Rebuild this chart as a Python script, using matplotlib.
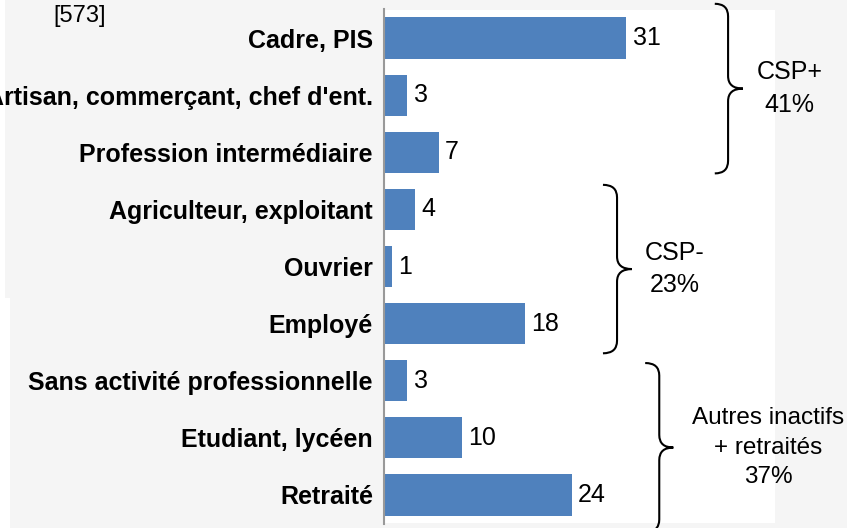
import matplotlib
matplotlib.use("Agg")
import matplotlib.pyplot as plt
from matplotlib import font_manager
from matplotlib.path import Path
from matplotlib.patches import PathPatch, Rectangle

categories = ["Cadre, PIS", "Artisan, commerçant, chef d'ent.", "Profession intermédiaire",
              "Agriculteur, exploitant", "Ouvrier", "Employé",
              "Sans activité professionnelle", "Etudiant, lycéen", "Retraité"]
values = [31, 3, 7, 4, 1, 18, 3, 10, 24]

group_labels = ["CSP+\n41%", "CSP-\n23%", "Autres inactifs\n+ retraités\n37%"]
group_first = [0, 3, 6]
group_last = [2, 5, 8]
total_label = "[573]"

# police etroite si dispo
try:
    font_manager.findfont("Liberation Sans Narrow", fallback_to_default=False)
    fam = ["Liberation Sans Narrow", "DejaVu Sans"]
except Exception:
    fam = ["Liberation Sans", "DejaVu Sans"]
plt.rcParams["font.family"] = fam

W, H = 847, 528
fig = plt.figure(figsize=(W / 100, H / 100), dpi=100)
fig.patch.set_facecolor("white")

# fond gris / blanc (capture d'ecran)
bg = fig.add_axes([0, 0, 1, 1], zorder=0)
bg.set_xlim(0, W)
bg.set_ylim(H, 0)
bg.axis("off")
gray = "#f5f5f5"
bg.add_patch(Rectangle((5, 0), W - 5, 298, color=gray, lw=0))
bg.add_patch(Rectangle((10, 298), W - 10, H - 298, color=gray, lw=0))
bg.add_patch(Rectangle((384, 10), 391, 513, color="white", lw=0))
bg.text(80, 16, total_label, fontsize=17, ha="center", va="center")

ax = fig.add_axes([384 / W, 4.5 / H, 391 / W, 514 / H], zorder=1)
ax.set_facecolor("none")
y = list(range(len(categories)))
ax.barh(y, values, height=0.72, color="#4F81BD")
ax.set_xlim(0, 50)
ax.set_ylim(8.5, -0.5)
ax.set_yticks(y)
ax.set_yticklabels(categories, fontsize=18, fontweight="bold")
ax.tick_params(axis="y", length=0, pad=8)
ax.set_xticks([])
for s in ["top", "right", "bottom"]:
    ax.spines[s].set_visible(False)
ax.spines["left"].set_color("#999999")
ax.spines["left"].set_linewidth(1.5)

for i, v in enumerate(values):
    ax.text(v + 0.8, i, str(v), va="center", ha="left", fontsize=18)

# accolades : (x gauche, x barre, x pointe), debordement haut/bas, x du texte
brace_x = [(42.3, 44.0, 45.9), (28.0, 29.8, 31.7), (33.4, 35.2, 37.0)]
brace_pad = [(0.6, 0.37), (0.43, 0.52), (0.31, 0.65)]
label_x = [51.9, 37.2, 49.1]
label_size = [18, 18, 17.5]
for g0, g1, lab, (xl, xv, xt), (p0, p1), lx, fs in zip(group_first, group_last, group_labels,
                                                        brace_x, brace_pad, label_x, label_size):
    y0 = g0 - p0
    y1 = g1 + p1
    ym = (y0 + y1) / 2
    r = 0.22
    verts = [(xl, y0), (xv, y0), (xv, y0 + r),
             (xv, ym - r), (xv, ym), (xt, ym),
             (xv, ym), (xv, ym + r),
             (xv, y1 - r), (xv, y1), (xl, y1)]
    codes = [Path.MOVETO, Path.CURVE3, Path.CURVE3,
             Path.LINETO, Path.CURVE3, Path.CURVE3,
             Path.CURVE3, Path.CURVE3,
             Path.LINETO, Path.CURVE3, Path.CURVE3]
    ax.add_patch(PathPatch(Path(verts, codes), fill=False, lw=1.5, color="black", clip_on=False))
    ax.text(lx, ym, lab, ha="center", va="center",
            fontsize=fs, linespacing=1.45, clip_on=False)

fig.savefig("out.png", dpi=100)
